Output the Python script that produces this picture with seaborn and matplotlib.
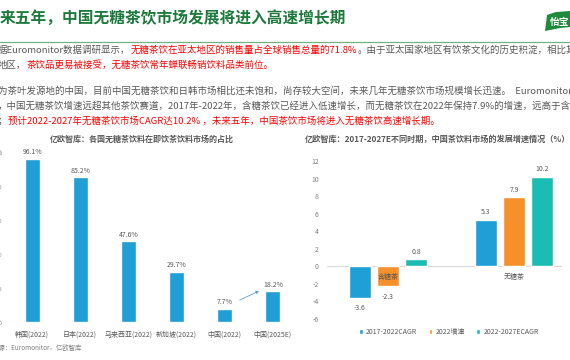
import matplotlib
matplotlib.use('Agg')
import matplotlib.pyplot as plt
import seaborn as sns
import pandas as pd
from matplotlib.patches import Polygon

sns.set_theme(style='white')
plt.rcParams['font.family'] = ['Noto Sans CJK SC', 'DejaVu Sans']
plt.rcParams['axes.unicode_minus'] = False

# ---------------- data ----------------
countries = ['韩国(2022)', '日本(2022)', '马来西亚(2022)', '新加坡(2022)', '中国(2022)', '中国(2025E)']
share = [96.1, 85.2, 47.6, 29.7, 7.7, 18.2]
share_ticks = [0, 20, 40, 60, 80, 100]

segments = ['含糖茶', '无糖茶']
periods = ['2017-2022CAGR', '2022增速', '2022-2027ECAGR']
growth_cagr_17_22 = [-3.6, 5.3]
growth_2022 = [-2.3, 7.9]
growth_cagr_22_27 = [0.8, 10.2]
growth_ticks = [-6, -4, -2, 0, 2, 4, 6, 8, 10, 12]

title = '来五年，中国无糖茶饮市场发展将进入高速增长期'
left_title = '亿欧智库：各国无糖茶饮料在即饮茶饮料市场的占比'
right_title = '亿欧智库：2017-2027E不同时期，中国茶饮料市场的发展增速情况（%）'
source = '来源：Euromonitor，亿欧智库'

GRAY = '#595959'
RED = '#ff0000'
body_lines = [
    [('据Euromonitor数据调研显示，', GRAY), ('无糖茶饮在亚太地区的销售量占全球销售总量的71.8%', RED),
     ('。由于亚太国家地区有饮茶文化的历史积淀，相比其', GRAY)],
    [('地区，', GRAY), ('茶饮品更易被接受，无糖茶饮常年蝉联畅销饮料品类前位。', RED)],
    [('为茶叶发源地的中国，目前中国无糖茶饮和日韩市场相比还未饱和，尚存较大空间，未来几年无糖茶饮市场规模增长迅速。  Euromonitor数', GRAY)],
    [('，中国无糖茶饮增速远超其他茶饮赛道，2017年-2022年，含糖茶饮已经进入低速增长，而无糖茶饮在2022年保持7.9%的增速，远高于含糖', GRAY)],
    [('；', GRAY), ('预计2022-2027年无糖茶饮市场CAGR达10.2% ，未来五年，中国茶饮市场将进入无糖茶饮高速增长期。', RED)],
]
body_y = [50, 65, 91, 106, 121]

BLUE = '#1f9fd6'
ORANGE = '#f5902a'
TEAL = '#1bbcb3'

# ---------------- figure ----------------
W, H = 570, 360
fig = plt.figure(figsize=(5.7, 3.6), dpi=100)
fig.patch.set_facecolor('white')
bg = fig.add_axes([0, 0, 1, 1], zorder=0)
bg.set_xlim(0, W)
bg.set_ylim(H, 0)
bg.axis('off')


def px_axes(l, t, r, b):
    return fig.add_axes([l / W, 1 - b / H, (r - l) / W, (b - t) / H], zorder=1)


# header
bg.text(0, 18, title, fontsize=11.3, fontweight='bold', color='#1e7a3c', va='center', ha='left')
bg.plot([0, W], [42, 42], color='#6fb47f', lw=0.9)
bg.add_patch(Polygon([(547, 15), (556, 12), (570, 11), (570, 27), (560, 28), (545, 31)],
                     closed=True, facecolor='#1e8a3c', edgecolor='none'))
bg.text(550, 22, '怡宝', fontsize=7, fontweight='bold', color='white', va='center', ha='left')

# body text
for y, parts in zip(body_y, body_lines):
    t = None
    for s, c in parts:
        if t is None:
            t = bg.text(-2, y, s, fontsize=6.8, color=c, va='center', ha='left')
        else:
            t = bg.annotate(s, xy=(1, 0), xycoords=t, va='bottom', ha='left', fontsize=6.8, color=c)

# chart titles
bg.text(50, 139, left_title, fontsize=5.8, fontweight='bold', color=GRAY, va='center', ha='left')
bg.text(305, 139, right_title, fontsize=5.9, fontweight='bold', color=GRAY, va='center', ha='left')
bg.text(-7, 348, source, fontsize=4.6, color='#7f7f7f', va='center', ha='left')

# ---------------- left chart ----------------
ax1 = px_axes(8, 152, 297, 322)
df1 = pd.DataFrame({'country': countries, 'share': share})
sns.barplot(data=df1, x='country', y='share', color=BLUE, saturation=1, width=0.31,
            errorbar=None, ax=ax1)
ax1.set_xlim(-0.5, 5.5)
ax1.set_ylim(0, 100)
ax1.set_yticks(share_ticks)
ax1.set_yticklabels([f'{v}%' for v in share_ticks])
ax1.set_xlabel('')
ax1.set_ylabel('')
for s in ax1.spines.values():
    s.set_visible(False)
ax1.axhline(0, color='#d9d9d9', lw=0.8, zorder=0)
ax1.tick_params(axis='y', length=0, pad=4, labelsize=4.8, labelcolor='#7f7f7f')
ax1.tick_params(axis='x', length=0, pad=6, labelsize=5, labelcolor=GRAY)
ax1.patch.set_alpha(0)
ax1.bar_label(ax1.containers[0], fmt='%.1f%%', padding=1.8, fontsize=5, color=GRAY)
ax1.annotate('', xy=(5 - 0.29, share[5]), xytext=(4 + 0.31, share[4] + 5.2),
             arrowprops=dict(arrowstyle='-|>', color='#5b9bd5', lw=0.6, mutation_scale=4,
                             shrinkA=0, shrinkB=0), annotation_clip=False)

# ---------------- right chart ----------------
ax2 = px_axes(327, 161, 562, 318.6)
df2 = pd.DataFrame({
    'segment': segments * 3,
    'period': [p for p in periods for _ in segments],
    'value': growth_cagr_17_22 + growth_2022 + growth_cagr_22_27,
})
sns.barplot(data=df2, x='segment', y='value', hue='period', hue_order=periods,
            palette=[BLUE, ORANGE, TEAL], saturation=1, width=0.667, gap=0.21,
            errorbar=None, ax=ax2)
handles, labels = ax2.get_legend_handles_labels()
if ax2.get_legend() is not None:
    ax2.get_legend().remove()
ax2.set_xlim(-0.484, 1.381)
ax2.set_ylim(-6, 12)
ax2.set_yticks(growth_ticks)
ax2.set_xticks([])
ax2.set_xlabel('')
ax2.set_ylabel('')
for s in ax2.spines.values():
    s.set_visible(False)
ax2.axhline(0, color='#d9d9d9', lw=0.8, zorder=0)
ax2.tick_params(axis='y', length=0, pad=6, labelsize=5, labelcolor='#7f7f7f')
ax2.patch.set_alpha(0)
for c in ax2.containers:
    vals = c.datavalues
    ax2.bar_label(c, labels=[f'{v:.1f}' if v >= 0 else '' for v in vals], padding=2.4,
                  fontsize=5, color=GRAY)
    ax2.bar_label(c, labels=[f'{v:.1f}' if v < 0 else '' for v in vals], padding=4.6,
                  fontsize=5, color=GRAY)
for i, seg in enumerate(segments):
    ax2.text(i, -1.26, seg, ha='center', va='center', fontsize=5, color=GRAY, zorder=5)

ax2.legend(handles, labels, loc='center', bbox_to_anchor=(449, 332), bbox_transform=bg.transData,
           ncol=3, frameon=False, fontsize=5, handlelength=0.55, handleheight=0.55,
           handletextpad=0.5, columnspacing=1.6, labelcolor=GRAY, borderpad=0)

fig.savefig('out.png', dpi=100, facecolor='white')
